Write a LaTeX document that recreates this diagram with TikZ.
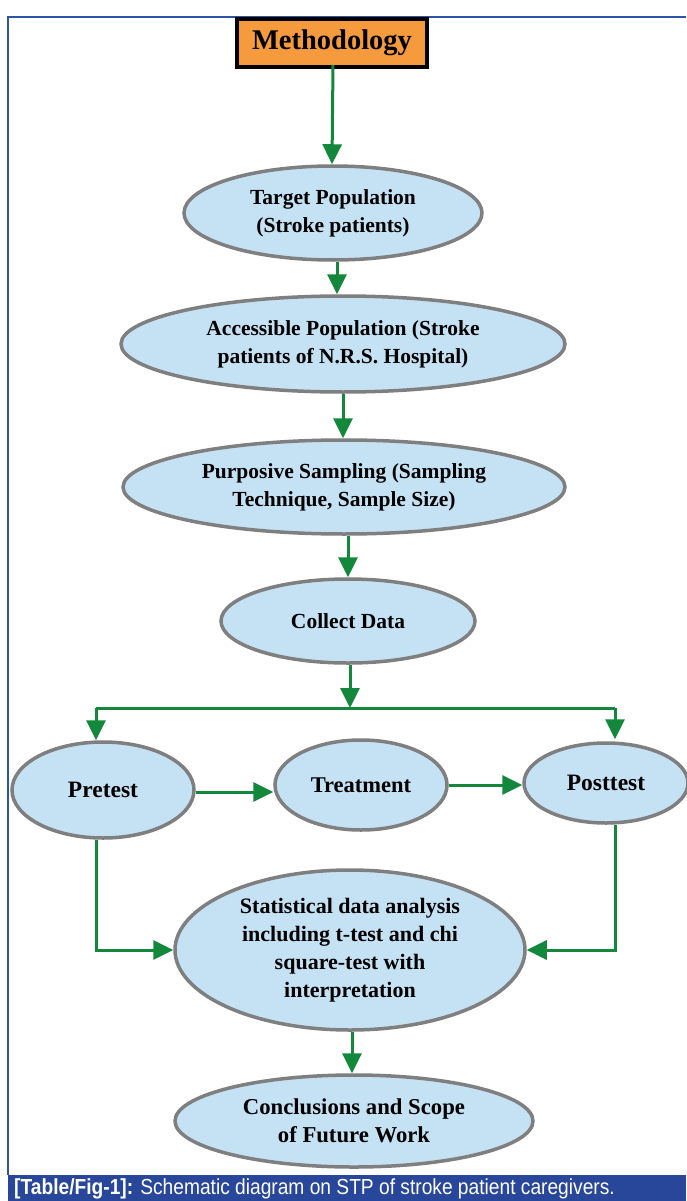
\documentclass[tikz,border=0pt]{standalone}
\usepackage{fontspec}
\setmainfont{Liberation Serif}
\newfontfamily\capfont[FakeStretch=0.88]{Liberation Sans}
\usetikzlibrary{shapes.geometric,arrows.meta}
\definecolor{ellfill}{HTML}{C5E1F4}
\definecolor{ellline}{HTML}{7F7F7F}
\definecolor{arrgreen}{HTML}{13873B}
\definecolor{boxorange}{HTML}{F59B3D}
\definecolor{frameblue}{HTML}{2C55A8}
\definecolor{capblue}{HTML}{28479A}
\begin{document}
\begin{tikzpicture}[x=1pt,y=-1pt,
  ell/.style={ellipse,draw=ellline,line width=3.5pt,fill=ellfill,inner sep=0pt,align=center,
    font=\fontsize{21.5}{28}\selectfont\bfseries},
  flow/.style={draw=arrgreen,line width=3pt,-{Triangle[length=20pt,width=19pt]}},
  flowline/.style={draw=arrgreen,line width=3pt}]
\useasboundingbox (0,0) rectangle (686,1201);
\fill[white] (0,0) rectangle (686,1201);
% frame
\draw[frameblue,line width=1.2pt] (8,1175) -- (8,17) -- (686,17);
\fill[capblue] (8,1175) rectangle (686,1201);
\node[anchor=west,text=white,inner sep=0pt,font=\capfont\fontsize{21.8}{22}\selectfont] (cap) at (14,1189)
  {\textbf{[Table/Fig-1]:} Schematic diagram on STP of stroke patient caregivers.};
% nodes
\node[draw=black,line width=4pt,fill=boxorange,minimum width=190pt,minimum height=48pt,inner sep=0pt,
  font=\fontsize{28.5}{30}\selectfont\bfseries] (meth) at (332,43) {Methodology};
\node[ell,minimum width=298pt,minimum height=94pt] (target) at (333,213) {Target Population\\(Stroke patients)};
\node[ell,minimum width=444pt,minimum height=96pt] (access) at (343,344) {Accessible Population (Stroke\\patients of N.R.S. Hospital)};
\node[ell,minimum width=442pt,minimum height=94pt] (purp) at (344,487) {Purposive Sampling (Sampling\\Technique, Sample Size)};
\node[ell,minimum width=254pt,minimum height=84pt] (collect) at (348,621) {Collect Data};
\node[ell,minimum width=182pt,minimum height=96pt,font=\fontsize{23.5}{28}\selectfont\bfseries] (pre) at (103,790) {Pretest};
\node[ell,minimum width=172pt,minimum height=90pt,font=\fontsize{22.5}{28}\selectfont\bfseries] (treat) at (361,785) {Treatment};
\node[ell,minimum width=164pt,minimum height=80pt,font=\fontsize{23.5}{28}\selectfont\bfseries] (post) at (606,783) {Posttest};
\node[ell,minimum width=350pt,minimum height=160pt,font=\fontsize{22}{28}\selectfont\bfseries] (stats) at (350,950)
  {Statistical data analysis\\including t-test and chi\\square-test with\\interpretation};
\node[ell,minimum width=358pt,minimum height=92pt,font=\fontsize{22.7}{28}\selectfont\bfseries] (concl) at (354,1121)
  {Conclusions and Scope\\of Future Work};
% branch coordinates
\coordinate (split) at (350,708);
\coordinate (bl) at (96,708);
\coordinate (br) at (615,708);
% connectors
\draw[flow] ([xshift=1pt,yshift=4pt]meth.south) -- (meth.south |- target.north);
\draw[flow] ([xshift=4pt]target.south) -- ([xshift=4pt]target.south |- access.north);
\draw[flow] (access.south) -- (access.south |- purp.north);
\draw[flow] ([xshift=4pt]purp.south) -- ([xshift=4pt]purp.south |- collect.north);
\draw[flow] (collect.south -| split) -- (split);
\draw[flowline] (bl) -- (br);
\draw[flow] (bl) -- (bl |- pre.north);
\draw[flow] (br) -- ([yshift=2pt]br |- post.north);
\draw[flow] ([yshift=-2pt]pre.east) -- ([yshift=-2pt]pre.east -| treat.west);
\draw[flow] (treat.east) -- (treat.east -| post.west);
\draw[flow] ([xshift=-7pt]pre.south) |- (stats.west);
\draw[flow] ([xshift=9pt]post.south) |- (stats.east);
\draw[flow] ([xshift=2pt]stats.south) -- ([xshift=2pt]stats.south |- concl.north);
\end{tikzpicture}
\end{document}
